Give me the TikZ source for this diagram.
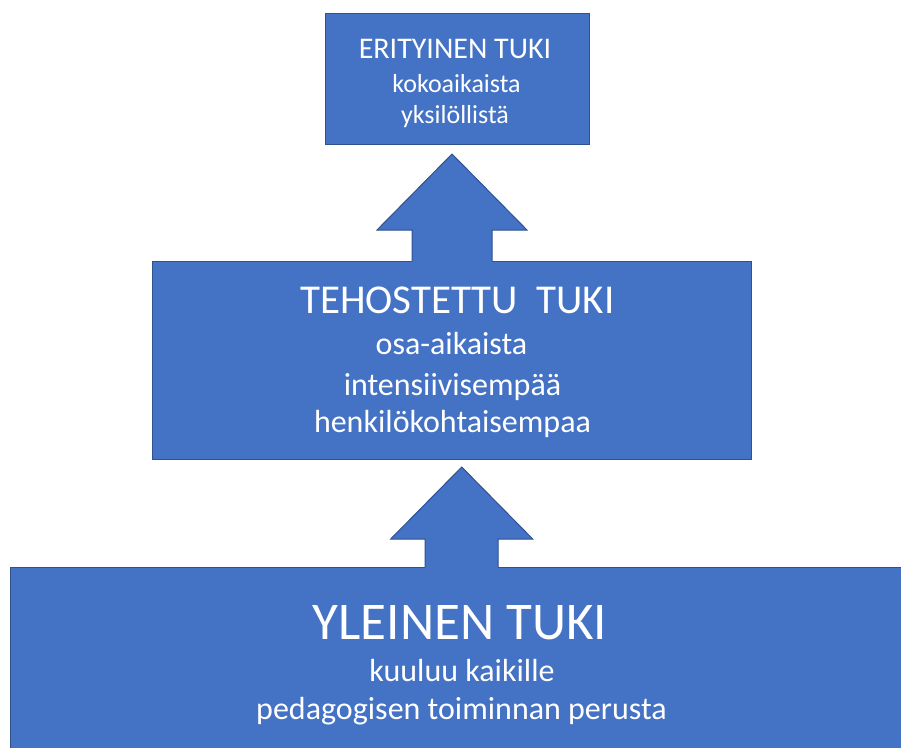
\documentclass[tikz,border=0pt]{standalone}
\usepackage{fontspec}
\setmainfont{Carlito}
\usetikzlibrary{calc}
\definecolor{boxblue}{HTML}{4472C4}
\definecolor{edgeblue}{HTML}{2F528F}
\tikzset{
  blockbox/.style={fill=boxblue, draw=edgeblue, line width=1pt, inner sep=0pt, outer sep=0pt},
  arrowfill/.style={fill=boxblue},
  arrowedge/.style={draw=edgeblue, line width=1pt, line join=miter},
  txt/.style={text=white, anchor=base, inner sep=0pt},
}
\newcommand{\fsz}[1]{\fontsize{#1}{#1}\selectfont}
% #1 base coordinate, #2 tip coordinate, #3 shaft half width, #4 head half width, #5 head base height above base
\newcommand{\blockarrow}[5]{%
  \fill[arrowfill] ($(#1)+(-#3,1.5)$) -- ($(#1)+(-#3,-#5)$) -- ($(#1)+(-#4,-#5)$) -- (#2)
     -- ($(#1)+(#4,-#5)$) -- ($(#1)+(#3,-#5)$) -- ($(#1)+(#3,1.5)$) -- cycle;
  \draw[arrowedge] ($(#1)+(-#3,0)$) -- ($(#1)+(-#3,-#5)$) -- ($(#1)+(-#4,-#5)$) -- (#2)
     -- ($(#1)+(#4,-#5)$) -- ($(#1)+(#3,-#5)$) -- ($(#1)+(#3,0)$);
}
\begin{document}
\begin{tikzpicture}[x=1pt,y=-1pt]
\useasboundingbox (0,0) rectangle (901,747);
% boxes
\node[blockbox, minimum width=264pt, minimum height=131pt] (top) at (457,78.5) {};
\node[blockbox, minimum width=599pt, minimum height=198pt] (mid) at (451.5,360) {};
\node[blockbox, minimum width=903pt, minimum height=193pt] (bot) at (461.5,663.5) {};
% arrows
\coordinate (uTip) at ($(top.south)+(-5,10)$);
\coordinate (uBase) at (uTip |- mid.north);
\blockarrow{uBase}{uTip}{40}{75}{31}
\coordinate (lTip) at ($(mid.south)+(10.2,8)$);
\coordinate (lBase) at (lTip |- bot.north);
\blockarrow{lBase}{lTip}{36.5}{71}{28}
% texts
\node[txt] (t1) at (455,58) {\fsz{30}ERITYINEN TUKI};
\node[txt] (t2) at (456.5,92) {\fsz{26}kokoaikaista};
\node[txt] (t3) at (455,123) {\fsz{26}yksilöllistä};
\node[txt] (m1) at (457.5,313) {\fsz{41}TEHOSTETTU\hspace{0.45em}TUKI};
\node[txt] (m2) at (451.5,354) {\fsz{32}osa-aikaista};
\node[txt] (m3) at (452.5,395) {\fsz{32}intensiivisempää};
\node[txt] (m4) at (452.5,432) {\fsz{32}henkilökohtaisempaa};
\node[txt] (b1) at (460,639) {\fsz{53}YLEINEN TUKI};
\node[txt] (b2) at (462,681) {\fsz{32}kuuluu kaikille};
\node[txt] (b3) at (461.5,719) {\fsz{32}pedagogisen toiminnan perusta};
\end{tikzpicture}
\end{document}
